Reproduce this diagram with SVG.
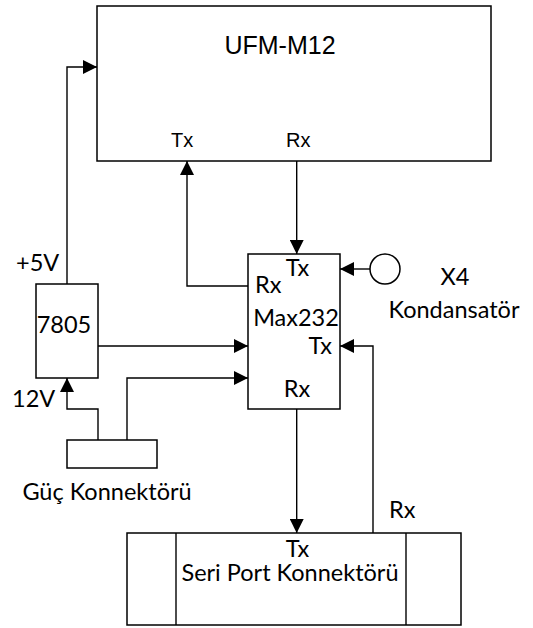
<svg xmlns="http://www.w3.org/2000/svg" width="533" height="628" viewBox="0 0 533 628">
<style>
.box{fill:#fff;stroke:#000;stroke-width:1.5}
.ln{fill:none;stroke:#000;stroke-width:1.4}
.a{font-family:"Liberation Sans",Arial,sans-serif;font-size:20px;fill:#000}
.c{font-family:Lato,"Liberation Sans",sans-serif;font-size:23.5px;fill:#000}
</style>
<defs>
<marker id="ar" markerUnits="userSpaceOnUse" markerWidth="14" markerHeight="14" refX="14" refY="7" orient="auto">
<path d="M0,0 L14,7 L0,14 z" fill="#000"/>
</marker>
</defs>
<g id="ufm">
<rect class="box" x="97" y="6" width="394" height="155"/>
<text class="a" x="280" y="54" text-anchor="middle" style="font-size:25px">UFM-M12</text>
<text class="a" x="171" y="147">Tx</text>
<text class="a" x="286" y="147">Rx</text>
</g>
<g id="max232">
<rect class="box" x="248" y="254" width="92" height="155"/>
<text class="c" x="297.5" y="276" text-anchor="middle">Tx</text>
<text class="c" x="255" y="293">Rx</text>
<text class="c" x="296" y="326" text-anchor="middle">Max232</text>
<text class="c" x="332" y="354" text-anchor="end">Tx</text>
<text class="c" x="297" y="397" text-anchor="middle">Rx</text>
</g>
<g id="reg7805">
<rect class="box" x="36" y="284" width="62" height="94"/>
<text class="c" x="64" y="333" text-anchor="middle">7805</text>
</g>
<g id="capacitor">
<circle class="box" cx="385" cy="269" r="15"/>
<text class="c" x="455" y="285" text-anchor="middle">X4</text>
<text class="c" x="454" y="318" text-anchor="middle">Kondansatör</text>
</g>
<g id="power">
<rect class="box" x="67" y="440" width="90" height="28"/>
<text class="c" x="107" y="500" text-anchor="middle">Güç Konnektörü</text>
</g>
<g id="serial">
<rect class="box" x="127" y="533" width="334" height="92"/>
<line class="ln" x1="176" y1="533" x2="176" y2="625"/>
<line class="ln" x1="406" y1="533" x2="406" y2="625"/>
<text class="c" x="297.5" y="557" text-anchor="middle">Tx</text>
<text class="c" x="290" y="581" text-anchor="middle">Seri Port Konnektörü</text>
</g>
<g id="labels">
<text class="c" x="16" y="271">+5V</text>
<text class="c" x="12" y="407">12V</text>
<text class="c" x="389" y="518">Rx</text>
</g>
<g id="connectors">
<path class="ln" d="M67,284 V67 H97" marker-end="url(#ar)"/>
<path class="ln" d="M248,286 H187 V161" marker-end="url(#ar)"/>
<path class="ln" d="M296.7,161 V254" marker-end="url(#ar)"/>
<path class="ln" d="M370,269 H340" marker-end="url(#ar)"/>
<path class="ln" d="M98,346 H248" marker-end="url(#ar)"/>
<path class="ln" d="M127,440 V378 H248" marker-end="url(#ar)"/>
<path class="ln" d="M98,440 V409 H67 V378" marker-end="url(#ar)"/>
<path class="ln" d="M296.7,409 V533" marker-end="url(#ar)"/>
<path class="ln" d="M373,533 V346 H340" marker-end="url(#ar)"/>
</g>
</svg>
